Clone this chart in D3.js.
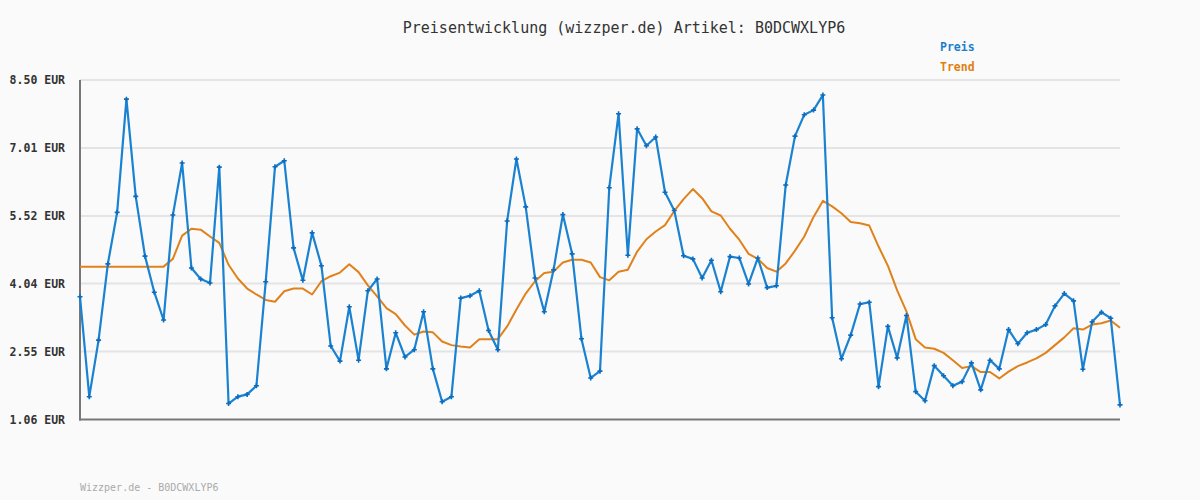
<!DOCTYPE html>
<html><head><meta charset="utf-8">
<script src="https://cdn.jsdelivr.net/npm/d3@7"></script>
<style>html,body{margin:0;padding:0;background:#fafafa;}svg{display:block;}</style>
</head><body>
<svg id="chart" width="1200" height="500"></svg>
<script>
const title = "Preisentwicklung (wizzper.de) Artikel: B0DCWXLYP6";
const footer = "Wizzper.de - B0DCWXLYP6";
const seriesNames = ["Preis", "Trend"];
const yTicks = [1.06, 2.55, 4.04, 5.52, 7.01, 8.50];
const yTickLabels = ["1.06 EUR", "2.55 EUR", "4.04 EUR", "5.52 EUR", "7.01 EUR", "8.50 EUR"];
const preis = [3.75,1.56,2.80,4.47,5.60,8.08,5.95,4.64,3.85,3.24,
5.54,6.68,4.38,4.14,4.05,6.59,1.41,1.56,1.61,1.80,
4.08,6.60,6.73,4.82,4.11,5.15,4.43,2.67,2.34,3.53,
2.36,3.88,4.14,2.17,2.96,2.43,2.59,3.42,2.17,1.45,
1.56,3.72,3.77,3.88,3.01,2.59,5.41,6.77,5.72,4.16,
3.42,4.34,5.55,4.69,2.83,1.97,2.12,6.14,7.76,4.66,
7.43,7.06,7.25,6.04,5.64,4.65,4.58,4.16,4.55,3.86,
4.63,4.60,4.03,4.60,3.95,3.99,6.20,7.27,7.74,7.84,
8.17,3.29,2.39,2.91,3.59,3.63,1.78,3.10,2.41,3.34,
1.67,1.47,2.24,2.02,1.80,1.89,2.30,1.71,2.36,2.17,
3.03,2.72,2.96,3.03,3.14,3.55,3.82,3.66,2.16,3.20,
3.41,3.28,1.38];
const trend = [4.41,4.41,4.41,4.41,4.41,4.41,4.41,4.41,4.41,4.41,
4.58,5.09,5.24,5.22,5.07,4.93,4.45,4.15,3.93,3.80,
3.68,3.64,3.87,3.93,3.93,3.80,4.09,4.20,4.28,4.46,
4.29,4.00,3.76,3.50,3.37,3.12,2.92,2.99,2.97,2.77,
2.69,2.66,2.64,2.82,2.82,2.82,3.10,3.47,3.82,4.09,
4.27,4.30,4.50,4.56,4.56,4.50,4.18,4.11,4.30,4.34,
4.74,5.01,5.18,5.32,5.63,5.89,6.11,5.91,5.62,5.53,
5.24,5.00,4.69,4.58,4.38,4.30,4.48,4.76,5.07,5.50,
5.85,5.73,5.58,5.39,5.36,5.31,4.85,4.43,3.89,3.43,
2.82,2.64,2.61,2.52,2.36,2.19,2.23,2.10,2.10,1.96,
2.11,2.23,2.31,2.40,2.52,2.69,2.86,3.06,3.03,3.14,
3.17,3.23,3.07];

const svg = d3.select("#chart");
const mLeft = 80, mRight = 1120, mTop = 80, mBottom = 419.5;
const x = d3.scaleLinear().domain([0, preis.length - 1]).range([mLeft, mRight]);
const y = d3.scaleLinear().domain([1.06, 8.50]).range([mBottom, mTop]);

svg.append("rect").attr("width", 1200).attr("height", 500).attr("fill", "#fafafa");

// gridlines
svg.append("g").selectAll("line").data(yTicks.slice(1)).join("line")
  .attr("x1", mLeft).attr("x2", mRight)
  .attr("y1", d => y(d)).attr("y2", d => y(d))
  .attr("stroke", "#e4e4e4").attr("stroke-width", 2);

// y axis labels
const yAxis = d3.axisLeft(y).tickValues(yTicks).tickSize(0).tickPadding(15)
  .tickFormat((d, i) => yTickLabels[i]);
const gy = svg.append("g").attr("transform", `translate(${mLeft},0)`).call(yAxis);
gy.select(".domain").remove();
gy.selectAll("text").attr("font-family", "DejaVu Sans Mono, monospace")
  .attr("font-size", "11.5px").attr("font-weight", "bold").attr("fill", "#333");

// axis lines
svg.append("line").attr("x1", mLeft).attr("x2", mLeft).attr("y1", mTop).attr("y2", mBottom + 1)
  .attr("stroke", "#777").attr("stroke-width", 2);
svg.append("line").attr("x1", mLeft - 1).attr("x2", mRight).attr("y1", mBottom).attr("y2", mBottom)
  .attr("stroke", "#777").attr("stroke-width", 2);

const line = d3.line().x((d, i) => x(i)).y(d => y(d));

// trend
svg.append("path").datum(trend).attr("d", line).attr("fill", "none")
  .attr("stroke", "#e0821c").attr("stroke-width", 2).attr("stroke-linejoin", "round");

// preis
svg.append("path").datum(preis).attr("d", line).attr("fill", "none")
  .attr("stroke", "#1a82d0").attr("stroke-width", 2.2).attr("stroke-linejoin", "round");

// markers (plus)
svg.append("g").selectAll("path").data(preis).join("path")
  .attr("d", (d, i) => {
    const cx = x(i), cy = y(d);
    return `M${cx-2.5},${cy}H${cx+2.5}M${cx},${cy-2.5}V${cy+2.5}`;
  })
  .attr("stroke", "#0b6cc0").attr("stroke-width", 1.6).attr("fill", "none");

// title
svg.append("text").attr("x", 624).attr("y", 33).attr("text-anchor", "middle")
  .attr("font-family", "DejaVu Sans Mono, monospace").attr("font-size", "15px")
  .attr("fill", "#333").text(title);

// legend
const legColors = ["#1a7fcc", "#df7f12"];
svg.append("g").selectAll("text").data(seriesNames).join("text")
  .attr("x", 940).attr("y", (d, i) => 51 + i * 20)
  .attr("font-family", "DejaVu Sans Mono, monospace").attr("font-size", "11.5px")
  .attr("font-weight", "bold").attr("fill", (d, i) => legColors[i]).text(d => d);

// footer
svg.append("text").attr("x", 80).attr("y", 491)
  .attr("font-family", "DejaVu Sans Mono, monospace").attr("font-size", "10px")
  .attr("fill", "#aaa").text(footer);
</script>
</body></html>
